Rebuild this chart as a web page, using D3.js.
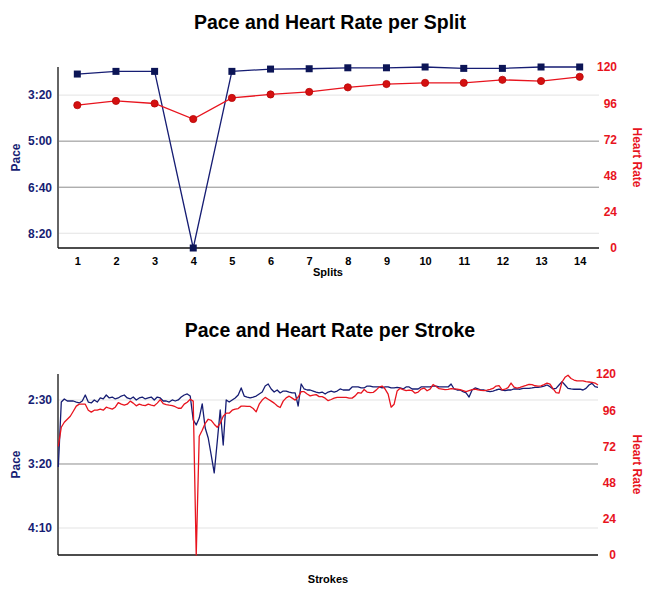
<!DOCTYPE html>
<html><head><meta charset="utf-8">
<script src="https://cdn.jsdelivr.net/npm/d3@7"></script>
<style>
body{margin:0;background:#fff;}
svg{display:block;font-family:"Liberation Sans",Arial,Helvetica,sans-serif;}
</style></head>
<body><svg id="c" width="657" height="599"></svg>
<script>
// ---------- data ----------
const splits = [1,2,3,4,5,6,7,8,9,10,11,12,13,14];
const splitPace = [154.3,148.5,148.5,532,148.5,143.5,142.8,140.7,140.7,139,142,142,139,139]; // seconds / 500m
const splitHR = [94.7,97.5,95.8,85.5,99.5,101.8,103.5,106.5,108.7,109.5,109.5,111.5,110.7,113.5];

const strokePace = [202.3,151.6,149.2,150.8,150.8,150.8,151.6,152.3,150.8,146.1,
151.6,152.3,150,151.6,148.4,149.2,146.1,148.4,147.7,149.2,
148.4,146.9,146.1,148.4,149.2,147.7,150,148.4,147.7,149.2,
148.4,147.7,150,147.7,148.4,150.8,150.8,151.6,150,150.8,
150,147.7,146.1,145.3,146.9,165.6,169.5,164.1,153.1,171.9,
179.7,193,207,182.8,157.8,185.2,150,151.6,150,148.4,
146.1,140.6,146.9,147.7,148.4,147.7,146.9,145.3,143.8,139.1,
137.5,141.4,143.8,142.2,144.5,143,143,143.8,144.5,144.5,
154.7,137.5,141.4,142.2,142.2,143,143.8,144.5,143.8,145.3,
143.8,143,143.8,143,141.4,142.2,142.2,142.2,139.8,139.8,
139.8,140.6,140.6,139.1,139.1,139.8,139.8,139.8,140.6,139.8,
139.8,140.6,140.6,140.1,140.6,141.4,139.8,139.8,141.4,141.4,
141.4,139.8,139.8,139.8,139.8,139.1,139.1,139.8,139.8,139.8,
139.8,137.5,141.4,142.2,142.2,143.5,144.5,147.7,142.2,140.6,
141.4,142.2,142.2,143,143.5,143,142.2,141.6,142.2,142.7,
142.2,142.2,141.4,141.4,141.6,141,140.9,140.9,140.6,140.1,
140.1,139.8,139.1,138.3,139.6,141.4,140.9,138.3,135.7,138.3,
140.9,141.4,141.6,141.6,141.6,142.2,140.9,138.3,137,139.6,140.1];

const strokeHR = [72,84.7,88,90,92,95.3,98.7,100,100,100,
96,94.7,96,96,96.7,96,98,97.3,96.7,98,
101,100,99.3,100,102,100.7,98.9,100,99.3,99,
100,99.3,98.9,100.7,103,100.3,99.7,99.3,99,98.3,
97.3,97.3,100,101.3,103.3,102,0,78.7,82.7,87.3,
90,89.3,86.7,84.7,87.3,92,94,94,96,96.7,
97.1,98.7,98.7,98.5,98.5,97.1,94.9,100,102.7,104.5,
103.3,102,100.7,98.9,97.8,102,104.2,105.3,104,102.7,
104.7,108.3,108.3,106.7,105.5,106,106.3,105,105,104,
102.3,103.1,104,104.5,104.5,104.5,104.5,104,104,105.5,
107.7,107.3,109.7,108,107.7,107.8,109.3,111.3,112,110,
106.7,98,100,108.7,110.5,109.7,109,109.3,109,107.3,
108,110,110.7,108.9,110,113,111.7,110.3,110,109.7,
109.8,110.3,110.2,110,109.7,109,108.3,109,109.7,109.9,
109.5,109.2,109,109.3,109.8,110.4,112,112.3,109.5,109.9,
111,114,111.3,110.7,111.1,111.8,112.4,113.1,112.9,112.2,
112,112.1,113,114,113.3,110.3,107.7,107.3,114.7,117.8,
119.2,117,116,115.5,115.5,115.5,115,114.7,114.4,114,112.7];

const hrTicks = [0,24,48,72,96,120];
const paceTicksSplit = [200,300,400,500];
const paceTicksStroke = [150,200,250];

// ---------- helpers ----------
const svg = d3.select("#c");
const NAVY = "#161d73", NAVY_DARK = "#0c1556", RED = "#e8141e", RED_DARK = "#b80808";
const fmt = s => { const m = Math.floor(s/60), r = Math.round(s - m*60); return m + ":" + (r<10?"0":"") + r; };

function frame(g, L, R, T, B, yP, paceTicks, yH, title, titleY, xLabel, xLabelY) {
  paceTicks.forEach((t, i) => {
    const edge = (i === 0 || i === paceTicks.length-1);
    g.append("line").attr("x1", L+1).attr("x2", R).attr("y1", yP(t)).attr("y2", yP(t))
      .attr("stroke", edge ? "#e3e3e3" : "#8d8d8d").attr("stroke-width", 1);
  });
  const la = g.append("g").attr("transform", `translate(${L},0)`)
    .call(d3.axisLeft(yP).tickValues(paceTicks).tickFormat(fmt).tickSize(0).tickPadding(6));
  la.select(".domain").remove();
  la.selectAll("text").attr("fill", NAVY).attr("font-size", 12).attr("font-weight", "bold")
    .attr("font-family", "Liberation Sans, Arial, sans-serif");
  const ra = g.append("g").attr("transform", `translate(${R+18},0)`)
    .call(d3.axisLeft(yH).tickValues(hrTicks).tickSize(0).tickPadding(0));
  ra.select(".domain").remove();
  ra.selectAll("text").attr("fill", RED).attr("font-size", 12).attr("font-weight", "bold")
    .attr("font-family", "Liberation Sans, Arial, sans-serif");
  g.append("line").attr("x1", L).attr("x2", L).attr("y1", T).attr("y2", B).attr("stroke", "#111").attr("stroke-width", 1.3);
  g.append("line").attr("x1", L).attr("x2", R).attr("y1", B).attr("y2", B).attr("stroke", "#111").attr("stroke-width", 1.3);
  g.append("text").attr("x", 330).attr("y", titleY).attr("text-anchor", "middle")
    .attr("font-size", 19.5).attr("font-weight", "bold").attr("fill", "#000").text(title);
  g.append("text").attr("transform", `translate(20,${(T+B)/2}) rotate(-90)`).attr("text-anchor", "middle")
    .attr("font-size", 12).attr("font-weight", "bold").attr("fill", NAVY).text("Pace");
  g.append("text").attr("transform", `translate(633,${(T+B)/2}) rotate(90)`).attr("text-anchor", "middle")
    .attr("font-size", 12).attr("font-weight", "bold").attr("fill", RED).text("Heart Rate");
  g.append("text").attr("x", 328).attr("y", xLabelY).attr("text-anchor", "middle")
    .attr("font-size", 11).attr("font-weight", "bold").attr("fill", "#000").text(xLabel);
}

// ---------- chart 1: per split ----------
{
  const L = 58, R = 599, T = 67, B = 248;
  const g = svg.append("g");
  const x = d3.scalePoint().domain(splits).range([L, R]).padding(0.5);
  const yP = d3.scaleLinear().domain(d3.extent(splitPace)).range([T, B]);
  const yH = d3.scaleLinear().domain([0, 120]).range([B, T]);
  frame(g, L, R, T, B, yP, paceTicksSplit, yH, "Pace and Heart Rate per Split", 29, "Splits", 276);

  const xa = g.append("g").attr("transform", `translate(0,${B})`)
    .call(d3.axisBottom(x).tickSize(0).tickPadding(9));
  xa.select(".domain").remove();
  xa.selectAll("text").attr("fill", "#000").attr("font-size", 11).attr("font-weight", "bold")
    .attr("font-family", "Liberation Sans, Arial, sans-serif");

  g.append("path").datum(splitPace.map((v,i)=>[splits[i],v]))
    .attr("fill","none").attr("stroke", NAVY).attr("stroke-width", 1.3)
    .attr("d", d3.line().x(d=>x(d[0])).y(d=>yP(d[1])));
  g.selectAll("rect.sq").data(splitPace).join("rect").attr("class","sq")
    .attr("x",(d,i)=>x(splits[i])-3.5).attr("y",d=>yP(d)-3.5).attr("width",7).attr("height",7)
    .attr("fill", NAVY_DARK);
  g.append("path").datum(splitHR.map((v,i)=>[splits[i],v]))
    .attr("fill","none").attr("stroke", RED).attr("stroke-width", 1.3)
    .attr("d", d3.line().x(d=>x(d[0])).y(d=>yH(d[1])));
  g.selectAll("circle.hr").data(splitHR).join("circle").attr("class","hr")
    .attr("cx",(d,i)=>x(splits[i])).attr("cy",d=>yH(d)).attr("r",3.6)
    .attr("fill", "#d41010").attr("stroke", RED_DARK).attr("stroke-width", 0.8);
}

// ---------- chart 2: per stroke ----------
{
  const L = 58, R = 598, T = 374, B = 555;
  const g = svg.append("g");
  const strokes = d3.range(strokePace.length);
  const x = d3.scaleLinear().domain([0, strokes.length-1]).range([L+0.3, R]);
  const yP = d3.scaleLinear().domain([129.7, 271.1]).range([T, B]);
  const yH = d3.scaleLinear().domain([0, 120]).range([B, T]);
  frame(g, L, R, T, B, yP, paceTicksStroke, yH, "Pace and Heart Rate per Stroke", 337, "Strokes", 583);

  g.append("path").datum(strokes)
    .attr("fill","none").attr("stroke", NAVY).attr("stroke-width", 1.3).attr("stroke-linejoin","round")
    .attr("d", d3.line().x(i=>x(i)).y(i=>yP(strokePace[i])));
  g.append("path").datum(strokes)
    .attr("fill","none").attr("stroke", RED).attr("stroke-width", 1.3).attr("stroke-linejoin","round")
    .attr("d", d3.line().x(i=>x(i)).y(i=>yH(strokeHR[i])));
}
</script></body></html>
